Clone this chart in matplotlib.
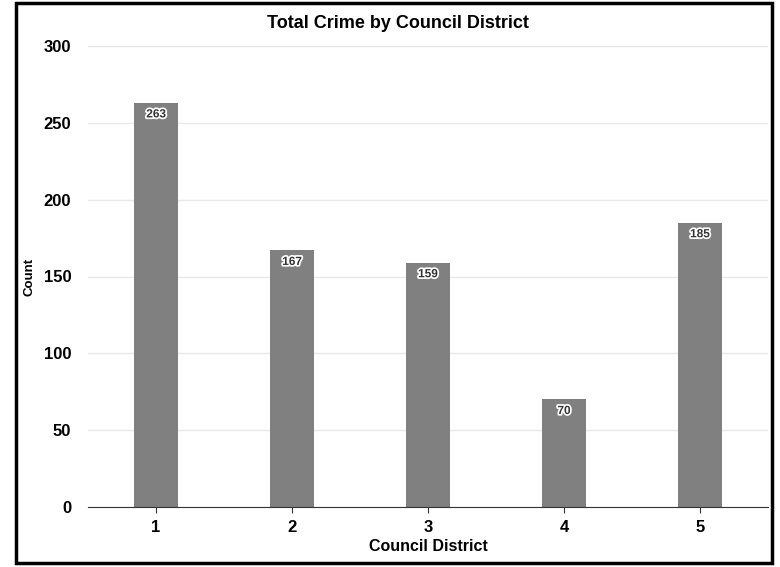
import matplotlib
matplotlib.use("Agg")
import matplotlib.pyplot as plt
import matplotlib.patheffects as pe
from matplotlib.patches import Rectangle

districts = ["1", "2", "3", "4", "5"]
counts = [263, 167, 159, 70, 185]

plt.rcParams["font.family"] = ["Liberation Sans", "DejaVu Sans"]

fig = plt.figure(figsize=(7.8, 5.67), dpi=100)
fig.patch.set_facecolor("white")
ax = fig.add_axes([88 / 780, 1 - 507 / 567, 680 / 780, 461 / 567])

x = list(range(1, len(districts) + 1))
ax.bar(x, counts, width=0.32, color="#808080", zorder=2)
for xi, v in zip(x, counts):
    ax.annotate(str(v), (xi, v), xytext=(0, -4), textcoords="offset points",
                ha="center", va="top", fontsize=8.5, fontweight="bold",
                color="#333333", zorder=3,
                path_effects=[pe.withStroke(linewidth=2.5, foreground="white")])

ax.set_xlim(0.5, 5.5)
ax.set_ylim(0, 300)
ax.set_xticks(x)
ax.set_xticklabels(districts)
ax.set_yticks(range(0, 301, 50))
ax.grid(axis="y", color="#e8e8e8", lw=1, zorder=0)
for s in ["top", "right", "left"]:
    ax.spines[s].set_visible(False)
ax.spines["bottom"].set_color("#333333")
ax.tick_params(axis="y", length=0, pad=12, labelsize=12)
ax.tick_params(axis="x", length=4, color="#333333", pad=5, labelsize=12)
for lab in ax.get_xticklabels() + ax.get_yticklabels():
    lab.set_fontweight("bold")

ax.set_xlabel("Council District", fontsize=11.5, fontweight="bold", labelpad=3)
ax.yaxis.set_label_coords(-52 / 680, 0.5)
ax.set_ylabel("Count", fontsize=9.5, fontweight="bold")
fig.text(398 / 780, 1 - 24 / 567, "Total Crime by Council District",
         ha="center", va="center", fontsize=13, fontweight="bold")

fig.patches.append(Rectangle((16 / 780, 4 / 567), 756 / 780, 560 / 567,
                             transform=fig.transFigure, fill=False,
                             lw=2.5, edgecolor="black"))

fig.savefig("out.png", dpi=100)
